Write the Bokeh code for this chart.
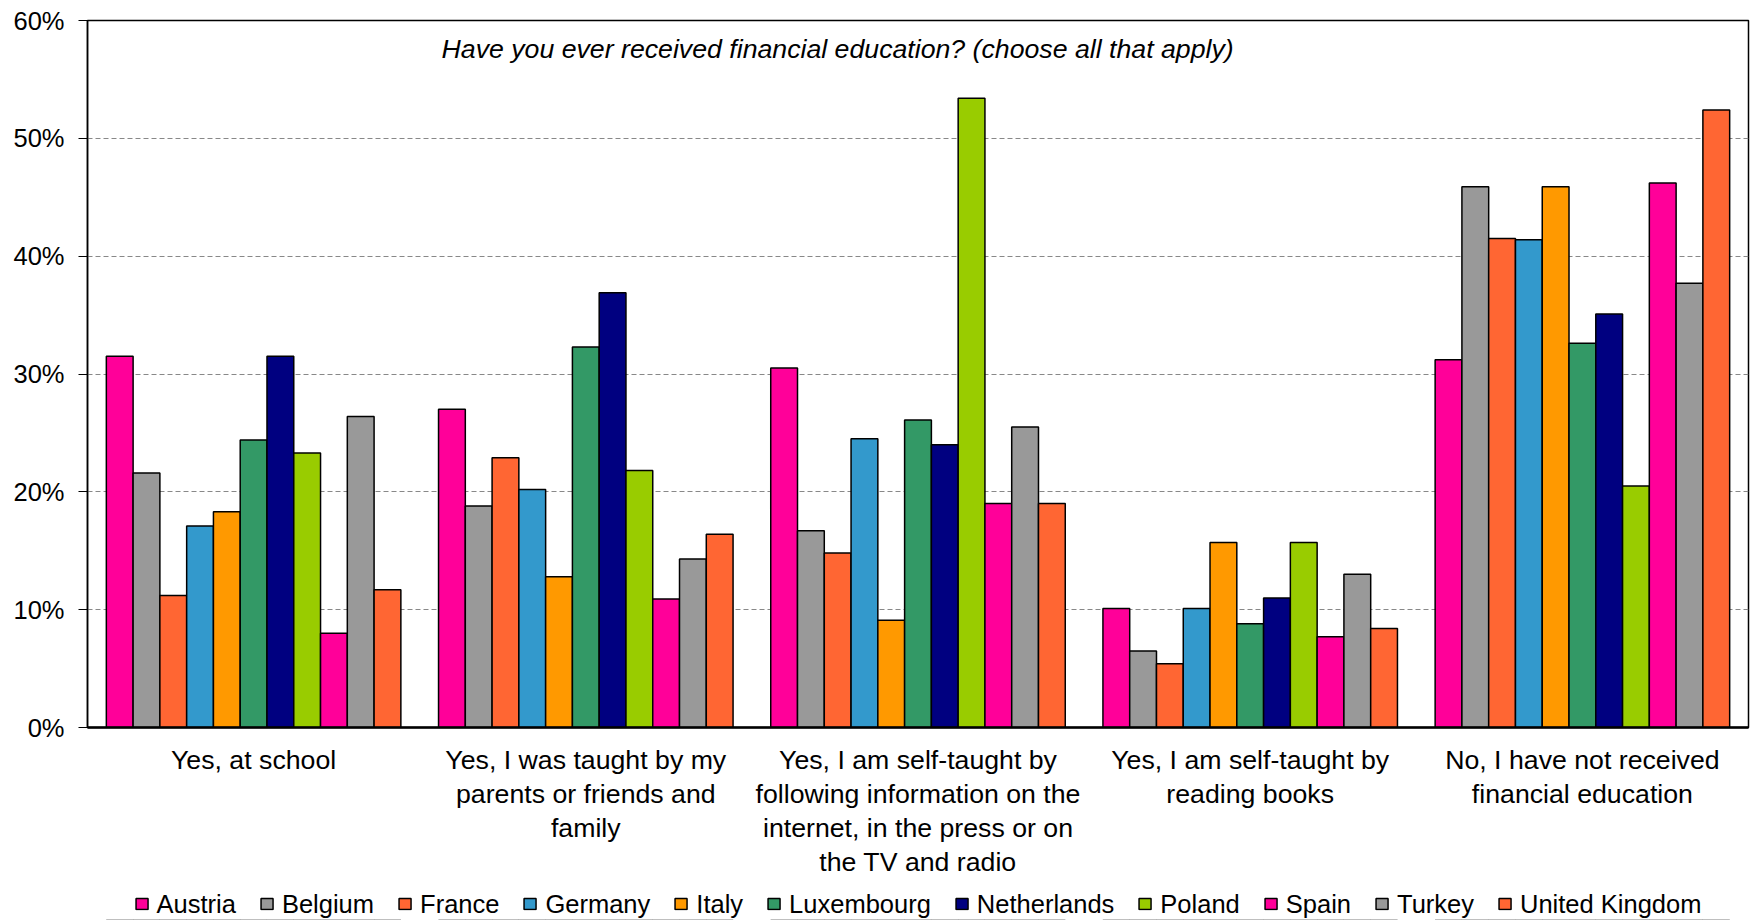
from bokeh.plotting import figure
from bokeh.layouts import column
from bokeh.models import (Range1d, FixedTicker, PrintfTickFormatter, Legend,
                          LegendItem, Label, LinearAxis)
from bokeh.embed import file_html
from bokeh.resources import INLINE

# category labels, one list per text line
label_line1 = ["Yes, at school", "Yes, I was taught by my", "Yes, I am self-taught by",
               "Yes, I am self-taught by", "No, I have not received"]
label_line2 = ["", "parents or friends and", "following information on the",
               "reading books", "financial education"]
label_line3 = ["", "family", "internet, in the press or on", "", ""]
label_line4 = ["", "", "the TV and radio", "", ""]

countries = ["Austria", "Belgium", "France", "Germany", "Italy", "Luxembourg",
             "Netherlands", "Poland", "Spain", "Turkey", "United Kingdom"]
colors = ["#FF0099", "#999999", "#FF6633", "#3399CC", "#FF9900", "#339966",
          "#000080", "#99CC00", "#FF0099", "#999999", "#FF6633"]

austria = [31.5, 27.0, 30.5, 10.1, 31.2]
belgium = [21.6, 18.8, 16.7, 6.5, 45.9]
france = [11.2, 22.9, 14.8, 5.4, 41.5]
germany = [17.1, 20.2, 24.5, 10.1, 41.4]
italy = [18.3, 12.8, 9.1, 15.7, 45.9]
luxembourg = [24.4, 32.3, 26.1, 8.8, 32.6]
netherlands = [31.5, 36.9, 24.0, 11.0, 35.1]
poland = [23.3, 21.8, 53.4, 15.7, 20.5]
spain = [8.0, 10.9, 19.0, 7.7, 46.2]
turkey = [26.4, 14.3, 25.5, 13.0, 37.7]
united_kingdom = [11.7, 16.4, 19.0, 8.4, 52.4]
series = [austria, belgium, france, germany, italy, luxembourg,
          netherlands, poland, spain, turkey, united_kingdom]

y_ticks = [0, 10, 20, 30, 40, 50, 60]
title_text = "Have you ever received financial education? (choose all that apply)"

FONT = "Liberation Sans"
FS = "26.7px"
FS_SMALL = "25.5px"
n_cat = len(label_line1)

p = figure(frame_width=1661, frame_height=707, output_backend="svg",
           toolbar_location=None,
           x_range=Range1d(-0.5, 4.5), y_range=Range1d(0, 60),
           min_border_left=87, min_border_right=2, min_border_top=20,
           min_border_bottom=160)
p.background_fill_color = "white"
p.border_fill_color = "white"
p.outline_line_color = "black"
p.outline_line_width = 1.5

bar_w = 0.0806
n = len(countries)
for i, (name, vals, col) in enumerate(zip(countries, series, colors)):
    xs = [k + (i - (n - 1) / 2) * bar_w for k in range(n_cat)]
    p.vbar(x=xs, top=vals, width=bar_w, bottom=0, fill_color=col,
           line_color="black", line_width=1.5)


def style_x(ax, lines, standoff, line_visible):
    ax.ticker = FixedTicker(ticks=list(range(n_cat)))
    ax.major_label_overrides = {i: t for i, t in enumerate(lines)}
    ax.major_tick_line_color = None
    ax.minor_tick_line_color = None
    ax.major_tick_out = 0
    ax.major_tick_in = 0
    ax.axis_line_color = "black" if line_visible else None
    ax.axis_line_width = 2.5
    ax.major_label_standoff = standoff
    ax.major_label_text_font = FONT
    ax.major_label_text_font_size = FS
    ax.major_label_text_color = "black"
    ax.major_label_text_line_height = 1.0


style_x(p.xaxis[0], label_line1, 17, True)
for lines in (label_line2, label_line3, label_line4):
    ax = LinearAxis()
    style_x(ax, lines, 1, False)
    p.add_layout(ax, "below")

p.yaxis.ticker = FixedTicker(ticks=y_ticks)
p.yaxis.formatter = PrintfTickFormatter(format="%d%%")
p.yaxis.minor_tick_line_color = None
p.yaxis.major_tick_in = 0
p.yaxis.major_tick_out = 9
p.yaxis.major_tick_line_color = "black"
p.yaxis.axis_line_color = "black"
p.yaxis.axis_line_width = 1.5
p.yaxis.major_label_standoff = 14
p.yaxis.major_label_text_font = FONT
p.yaxis.major_label_text_font_size = FS_SMALL
p.yaxis.major_label_text_color = "black"

p.xgrid.grid_line_color = None
p.ygrid.grid_line_color = "#888888"
p.ygrid.grid_line_dash = "5 3"
p.ygrid.grid_line_width = 1.2

title = Label(x=1.758, y=57.6, text=title_text, text_font=FONT,
              text_font_size=FS, text_font_style="italic",
              text_align="center", text_baseline="middle", text_color="black")
p.add_layout(title)

# legend strip below the chart (same series, drawn out of view)
leg = figure(width=1750, height=33, output_backend="svg", toolbar_location=None,
             x_range=Range1d(-0.5, 4.5), y_range=Range1d(100, 101),
             min_border_left=70, min_border_right=0, min_border_top=0,
             min_border_bottom=0)
leg.axis.visible = False
leg.grid.grid_line_color = None
leg.outline_line_color = None
leg.background_fill_color = "white"
leg.border_fill_color = "white"
items = []
for i, (name, vals, col) in enumerate(zip(countries, series, colors)):
    xs = [k + (i - (n - 1) / 2) * bar_w for k in range(n_cat)]
    r = leg.vbar(x=xs, top=vals, width=bar_w, bottom=0, fill_color=col,
                 line_color="black", line_width=1.5)
    items.append(LegendItem(label=name, renderers=[r]))

legend = Legend(items=items, orientation="horizontal", location="center",
                label_text_font=FONT, label_text_font_size=FS_SMALL,
                label_text_color="black", glyph_width=15, glyph_height=14,
                label_standoff=8, spacing=23, padding=0, margin=0,
                border_line_color=None, background_fill_alpha=0)
leg.add_layout(legend)

layout = column(p, leg, spacing=0)
open("out.html", "w").write(file_html(layout, INLINE))
